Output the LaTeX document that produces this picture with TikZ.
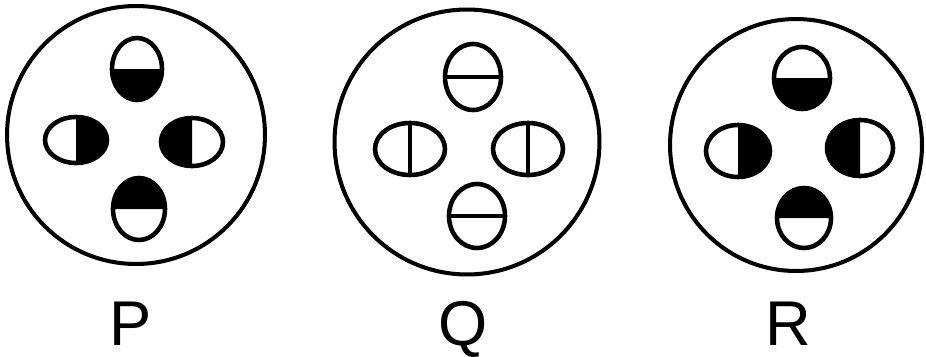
\documentclass[tikz,border=0pt]{standalone}
\usepackage{fontspec}
\setmainfont{Liberation Sans}
\usepackage{tikz}
\usetikzlibrary{positioning}

\begin{document}
\begin{tikzpicture}[x=0.02cm,y=0.02cm,
      disk/.style={circle,draw,line width=2.3pt,inner sep=0pt},
      hole/.style={line width=2.6pt},
      split/.style={line width=1.9pt},
      lab/.style={font=\fontsize{36}{40}\selectfont,inner sep=0pt,anchor=base}]
    \useasboundingbox (0,0) rectangle (926,356);
    % outer disks
    \node[disk,minimum size=5.16cm] (diskP) at (136,221) {};
    \node[disk,minimum size=5.3cm] (diskQ) at (467,214) {};
    \node[disk,minimum size=5.04cm] (diskR) at (796,211) {};
    % half-filled holes of P and R (filled half faces the centre)
    \foreach \cx/\cy/\rx/\ry/\dir in {137/287/25/31/-90, 76/216/31/23/0, 192/214/31/24/180, 139/147/26/31/90,
        802/278/28/31/-90, 738/205/32/26/0, 860/208/33/28/180, 804/138/27/30/90}{
      \fill (\cx,\cy) ++({\rx*cos(\dir+90)},{\ry*sin(\dir+90)})
        arc[start angle=\dir+90,delta angle=-180,x radius=\rx,y radius=\ry] -- cycle;
      \draw[hole] (\cx,\cy) ellipse[x radius=\rx,y radius=\ry];
    }
    % split holes of Q
    \foreach \cx/\cy/\rx/\ry/\dir in {473/279/28/33/-90, 410/207/35/26/0, 528/207/35/26/180, 477/140/28/32/90}{
      \draw[split] (\cx,\cy) ++({\rx*cos(\dir+90)},{\ry*sin(\dir+90)})
        -- ++({-2*\rx*cos(\dir+90)},{-2*\ry*sin(\dir+90)});
      \draw[hole] (\cx,\cy) ellipse[x radius=\rx,y radius=\ry];
    }
    % labels
    \node[lab] (labP) at (131,11) {P};
    \node[lab] (labQ) at (463,11) {Q};
    \node[lab] (labR) at (788,11) {R};
  \end{tikzpicture}
\end{document}
